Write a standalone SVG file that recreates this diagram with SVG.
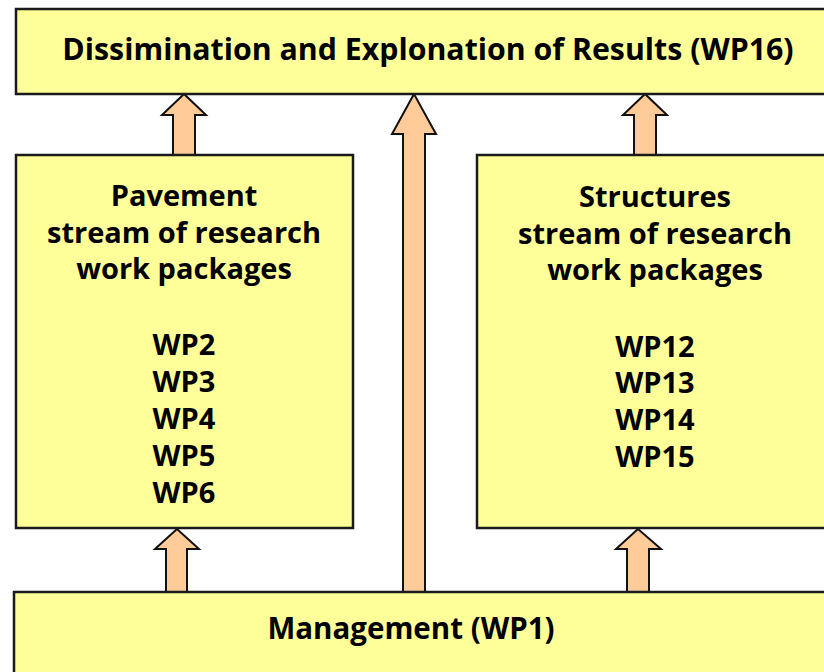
<svg xmlns="http://www.w3.org/2000/svg" width="824" height="672" viewBox="0 0 824 672">
  <style>
    .box { fill: #FFFF99; stroke: #1a1a1a; stroke-width: 2.5; }
    .arrow { fill: #FFCC99; stroke: #111; stroke-width: 2; stroke-linejoin: miter; }
    .lbl { font-family: "Open Sans", "DejaVu Sans", sans-serif; font-weight: bold; font-size: 29px; fill: #000; text-anchor: middle; }
    .big { font-size: 30.3px; }
  </style>
  <rect width="824" height="672" fill="#fff"/>

  <!-- connectors: block arrows -->
  <g id="connectors">
    <polygon class="arrow" points="184,94 162,115 173,115 173,155 195,155 195,115 206,115"/>
    <polygon class="arrow" points="645,94 623,115 634,115 634,155 656,155 656,115 667,115"/>
    <polygon class="arrow" points="414,94 392,134 403,134 403,592 425,592 425,134 436,134"/>
    <polygon class="arrow" points="177,529 155,549 166,549 166,592 187,592 187,549 199,549"/>
    <polygon class="arrow" points="638,529 616,549 627,549 627,592 649,592 649,549 661,549"/>
  </g>

  <g id="wp16">
    <rect class="box" x="16" y="9" width="840" height="85"/>
    <text class="lbl big" x="428" y="60">Dissimination and Explonation of Results (WP16)</text>
  </g>

  <g id="pavement">
    <rect class="box" x="16" y="155" width="337" height="373"/>
    <text class="lbl" x="184" y="206">Pavement</text>
    <text class="lbl" x="184" y="243">stream of research</text>
    <text class="lbl" x="184" y="279">work packages</text>
    <text class="lbl" x="184" y="355">WP2</text>
    <text class="lbl" x="184" y="392">WP3</text>
    <text class="lbl" x="184" y="429">WP4</text>
    <text class="lbl" x="184" y="466">WP5</text>
    <text class="lbl" x="184" y="503">WP6</text>
  </g>

  <g id="structures">
    <rect class="box" x="477" y="155" width="370" height="373"/>
    <text class="lbl" x="655" y="207">Structures</text>
    <text class="lbl" x="655" y="244">stream of research</text>
    <text class="lbl" x="655" y="280">work packages</text>
    <text class="lbl" x="655" y="357">WP12</text>
    <text class="lbl" x="655" y="393">WP13</text>
    <text class="lbl" x="655" y="430">WP14</text>
    <text class="lbl" x="655" y="467">WP15</text>
  </g>

  <g id="wp1">
    <rect class="box" x="14" y="592" width="840" height="100"/>
    <text class="lbl" x="411" y="639" style="font-size:29.5px">Management (WP1)</text>
  </g>
</svg>
